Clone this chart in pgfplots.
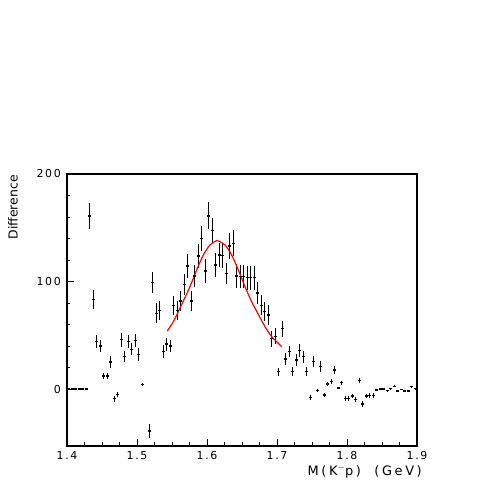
\documentclass[border=0pt]{standalone}
\usepackage{fontspec}
\setmainfont{DejaVu Sans}
\newfontfamily\lblfont{DejaVu Sans}[LetterSpace=15]
\newfontfamily\xlfont{DejaVu Sans}[LetterSpace=20]
\usepackage{pgfplots}
\pgfplotsset{compat=1.18}
\usepackage{pgfplotstable}
\pgfplotstableread{
x y ey
1.4025 0 0
1.4075 0 0
1.4125 0 0
1.4175 0 0
1.4225 0 0
1.4275 0 0
1.4325 161 12.4
1.4375 83 9
1.4425 44 6.2
1.4475 40 6
1.4525 12 3
1.4575 12 3
1.4625 25 5.4
1.4675 -9 2.8
1.4725 -5 2.5
1.4775 46 6.5
1.4825 30 5
1.4875 44 6
1.4925 37 5.5
1.4975 45 6
1.5025 32 5.9
1.5075 4 1.5
1.5175 -39 6.2
1.5225 99 9.6
1.5275 70.4 9.3
1.5325 73 9
1.5375 35 6
1.5425 41.8 6
1.5475 40 6
1.5525 77.5 9
1.5575 73 9
1.5625 82 9.5
1.5675 97.4 10
1.5725 114.4 11
1.5775 82 9.5
1.5825 105 10.5
1.5875 123.7 11.5
1.5925 140 12
1.5975 109.8 11
1.6025 161 12.5
1.6075 147.5 12
1.6125 115.3 11
1.6175 124.6 11.5
1.6225 124.2 11.5
1.6275 107.6 10
1.6325 133 12
1.6375 135.5 12
1.6425 105.2 11
1.6475 104.8 11
1.6525 104.5 11
1.6575 103.5 11
1.6625 103.5 11
1.6675 103.5 11
1.6725 89.3 10
1.6775 78 9.5
1.6825 72 9
1.6875 68.8 9
1.6925 46.8 7.5
1.6975 49 7.5
1.7025 16.1 3.9
1.7075 56 7.7
1.7125 28 5.7
1.7175 35 5.4
1.7225 16.1 4
1.7275 27 5.4
1.7325 35.6 6
1.7375 30 5.5
1.7425 16.1 4
1.7475 -7.8 2.3
1.7525 25.4 5
1.7575 -1.6 1.5
1.7625 20.8 5
1.7675 -5.6 2
1.7725 4.6 2
1.7775 7 2.5
1.7825 17.7 4
1.7875 0.9 1.2
1.7925 5.9 2
1.7975 -8.7 2.3
1.8025 -8.7 2.3
1.8075 -6.5 2.3
1.8125 -9.6 2.5
1.8175 7.7 2.5
1.8225 -14 3
1.8275 -6.5 2
1.8325 -5.9 2
1.8375 -5.9 2
1.8425 -0.9 1
1.8475 0 0.5
1.8525 0 0.5
1.8575 -1.6 0.8
1.8625 0.3 0.5
1.8675 2.5 1
1.8725 -1.9 1
1.8775 -0.3 0.5
1.8825 -1.9 1
1.8875 -1.9 1
1.8925 2.2 1
1.8975 0.3 0.5
}\data
\begin{document}
\begin{tikzpicture}
\path[use as bounding box] (-67bp,-45bp) rectangle (434bp,446bp);
\begin{axis}[
  at={(0,0)}, anchor=south west,
  scale only axis, width=350bp, height=272bp,
  xmin=1.4, xmax=1.9, ymin=-53, ymax=200,
  xtick={1.4,1.5,1.6,1.7,1.8,1.9},
  xticklabels={1.4,1.5,1.6,1.7,1.8,1.9},
  ytick={0,100,200},
  yticklabels={0,100,200},
  minor x tick num=3, minor y tick num=4,
  tick align=inside, xtick pos=bottom, ytick pos=left,
  major tick length=7bp, minor tick length=3.5bp,
  axis line style={line width=1.1bp},
  every tick/.style={black, line width=0.9bp},
  /pgf/number format/assume math mode=true,
  tick label style={inner sep=0pt, font=\lblfont\fontsize{11}{13}\selectfont},
  yticklabel style={xshift=-6bp},
  xticklabel style={yshift=-5bp},
  ylabel={Difference},
  ylabel style={at={(axis description cs:-0.1686,0.996)}, anchor=north east, inner sep=0pt, font=\fontsize{12.5}{14}\selectfont},
  xlabel={M(K$^{-}$p)\ \ (GeV)},
  xlabel style={at={(axis description cs:1.0143,-0.07)}, anchor=north east, inner sep=0pt, font=\xlfont\fontsize{13}{15}\selectfont},
  clip=false,
]
\addplot[black, line width=1.4bp, mark=-, mark size=1.3bp, only marks,
  mark options={line width=1.3bp},
  error bars/.cd, y dir=both, y explicit, error mark=none,
  error bar style={line width=1.4bp}]
  table[x=x, y=y, y error=ey] {\data};
\addplot[red, line width=1.2bp, smooth] coordinates {
(1.5433,54) (1.5519,62.6) (1.559,71.9) (1.5662,81.9) (1.5757,95.2)
(1.5852,110.7) (1.5948,124.7) (1.6043,134) (1.6138,138) (1.6162,137.7)
(1.6257,134) (1.6352,124.7) (1.6448,110.7) (1.6543,95.2) (1.6638,81.2)
(1.6733,69.5) (1.6829,58) (1.6924,48.7) (1.7019,42.5) (1.7067,39.4)
};
\end{axis}
\end{tikzpicture}
\end{document}
